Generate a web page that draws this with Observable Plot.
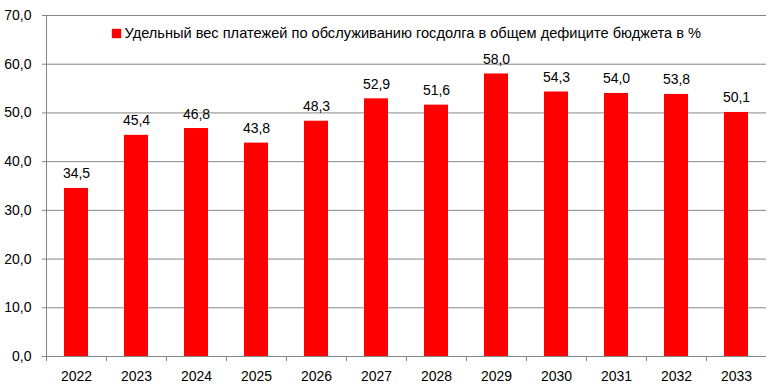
<!DOCTYPE html>
<html>
<head>
<meta charset="utf-8">
<script src="https://cdn.jsdelivr.net/npm/d3@7"></script>
<script src="https://cdn.jsdelivr.net/npm/@observablehq/plot@0.6"></script>
<style>
  html, body { margin: 0; padding: 0; background: #fff; }
  #chart svg { display: block; }
</style>
</head>
<body>
<div id="chart"></div>
<script>
const years = ["2022","2023","2024","2025","2026","2027","2028","2029","2030","2031","2032","2033"];
const values = [34.5, 45.4, 46.8, 43.8, 48.3, 52.9, 51.6, 58.0, 54.3, 54.0, 53.8, 50.1];
const yTicks = [0, 10, 20, 30, 40, 50, 60, 70];
const legendLabel = "Удельный вес платежей по обслуживанию госдолга в общем дефиците бюджета в %";

const data = years.map((y, i) => ({year: y, value: values[i]}));
const fmt = d => d3.format(".1f")(d).replace(".", ",");
const grid = "#868686";
const red = "#ff0000";

const chart = Plot.plot({
  width: 769,
  height: 391,
  marginLeft: 46,
  marginRight: 3,
  marginTop: 15,
  marginBottom: 35,
  style: {fontFamily: "'Liberation Sans', Arial, sans-serif", fontSize: "14px", color: "#000", background: "#fff"},
  x: {domain: years, paddingInner: 0.6, paddingOuter: 0.3, round: false, label: null},
  y: {domain: [0, 70], label: null},
  marks: [
    Plot.ruleY(yTicks, {stroke: grid, strokeWidth: 1}),
    Plot.barY(data, {x: "year", y: "value", fill: red}),
    Plot.axisY({ticks: yTicks, tickSize: 4, tickPadding: 11, tickFormat: fmt, stroke: grid, fill: "#000", label: null, fontSize: 14}),
    Plot.axisX({tickSize: 0, tickPadding: 15, label: null, fill: "#000", fontSize: 14}),
    Plot.axisX({tickSize: 5, text: null, dx: -30, stroke: grid, label: null}),
    Plot.ruleX([years[0]], {x: d => d, dx: -30, y1: 0, y2: 70, stroke: grid}),
    Plot.text(data, {x: "year", y: "value", text: d => fmt(d.value), lineAnchor: "bottom", dy: -10, fontSize: 14, fill: "#000"}),
    Plot.dot([legendLabel], {frameAnchor: "top-left", dx: 70, dy: 18, symbol: "square", r: 5.3, fill: red, stroke: "none"}),
    Plot.text([legendLabel], {frameAnchor: "top-left", dx: 78, dy: 18, text: d => d, textAnchor: "start", lineAnchor: "middle", fontSize: 14.6, fill: "#000"})
  ]
});
document.getElementById("chart").appendChild(chart);
</script>
</body>
</html>
